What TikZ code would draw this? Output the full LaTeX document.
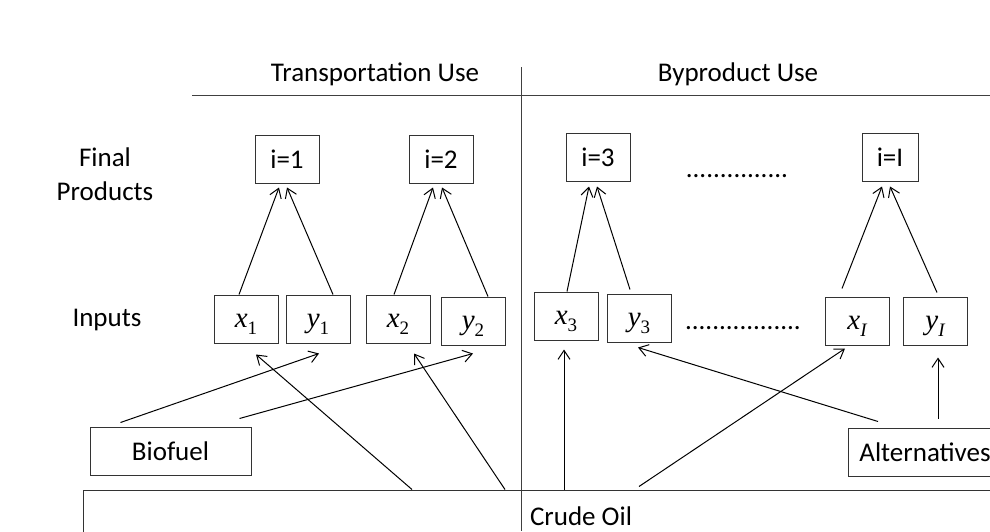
\documentclass[tikz,border=0pt]{standalone}
\usepackage{fontspec}
\setmainfont{Carlito}
\newfontfamily\varfont{Liberation Serif}
\newcommand\invar[2]{{\varfont\fontsize{29pt}{29pt}\selectfont\itshape #1}\raisebox{-7pt}{\varfont\fontsize{19pt}{19pt}\selectfont #2}}
\usetikzlibrary{arrows.meta}
\begin{document}
\begin{tikzpicture}[x=1pt,y=-1pt,
  every node/.style={font=\fontsize{27pt}{34pt}\selectfont},
  box/.style={draw=black!80,line width=1pt,inner sep=0pt,minimum width=64pt,minimum height=48pt},
  varbox/.style={box,text height=16pt,text depth=0pt},
  arr/.style={draw=black,line width=1pt,-{Straight Barb[length=9pt,width=12pt,line width=1pt]}},
  divider/.style={draw=black!75,line width=1pt}]
\useasboundingbox (0,0) rectangle (990,531);
% dividers
\draw[divider] (192,95) -- (990,95);
\draw[divider] (521,67) -- (521,531);
% headings
\node (tu) at (375,74) {Transportation Use};
\node (bu) at (738,74) {Byproduct Use};
\node[align=center] (fp) at (105,174) {Final\\Products};
\node (in) at (107,320) {Inputs};
% final products
\node[box] (p1) at (287,159) {i=1};
\node[box] (p2) at (441,159) {i=2};
\node[box] (p3) at (598,157) {i=3};
\node[box,minimum width=56pt] (pI) at (890,157) {i=I};
\node[anchor=base] (d1) at (737,177) {...............};
% inputs
\node[varbox] (x1) at (246,319) {\invar{x}{1}};
\node[varbox] (y1) at (318,319) {\invar{y}{1}};
\node[varbox] (x2) at (398,319) {\invar{x}{2}};
\node[varbox] (y2) at (473,321) {\invar{y}{2}};
\node[varbox] (x3) at (566,316) {\invar{x}{3}};
\node[varbox] (y3) at (639,318) {\invar{y}{3}};
\node[varbox] (xI) at (857,321) {\invar{x}{\itshape I}};
\node[varbox] (yI) at (935,321) {\invar{y}{\itshape I}};
\node[anchor=base] (d2) at (743,329) {.................};
% sources
\node[box,minimum width=161pt] (bio) at (170.5,451) {Biofuel};
\node[box,minimum width=154pt] (alt) at (925,452) {Alternatives};
\node[box,minimum width=996pt,minimum height=52pt] (crude) at (581,516) {Crude Oil};
% inputs to final products
\draw[arr] ([xshift=-7pt]x1.north) -- ([xshift=-8pt,yshift=-4pt]p1.south);
\draw[arr] ([xshift=15pt]y1.north) -- ([yshift=-4pt]p1.south);
\draw[arr] ([xshift=-4pt]x2.north) -- ([xshift=-8pt,yshift=-4pt]p2.south);
\draw[arr] ([xshift=15pt]y2.north) -- ([xshift=1pt,yshift=-4pt]p2.south);
\draw[arr] ([xshift=1pt]x3.north) -- ([xshift=-9pt,yshift=-5pt]p3.south);
\draw[arr] ([xshift=-9pt,yshift=4pt]y3.north) -- ([xshift=-1pt,yshift=-5pt]p3.south);
\draw[arr] ([xshift=-15pt,yshift=8pt]xI.north) -- ([xshift=-8pt,yshift=-5pt]pI.south);
\draw[arr] ([xshift=2pt,yshift=4pt]yI.north) -- ([yshift=-5pt]pI.south);
% biofuel
\draw[arr] ([xshift=-50pt,yshift=4pt]bio.north) -- ([xshift=1pt,yshift=-10pt]y1.south);
\draw[arr] ([xshift=69pt,yshift=8pt]bio.north) -- ([yshift=-8pt]y2.south);
% crude oil
\draw[arr] ([xshift=-169pt]crude.north) -- ([xshift=10pt,yshift=-11pt]x1.south);
\draw[arr] ([xshift=-76pt]crude.north) -- ([xshift=16pt,yshift=-10pt]x2.south);
\draw[arr] ([xshift=-17pt]crude.north) -- ([xshift=-2pt,yshift=-9pt]x3.south);
\draw[arr] ([xshift=58pt,yshift=3pt]crude.north) -- ([xshift=-12pt,yshift=-3pt]xI.south);
% alternatives
\draw[arr] ([xshift=-47pt,yshift=6pt]alt.north) -- ([xshift=-1pt,yshift=-5pt]y3.south);
\draw[arr] ([xshift=13pt,yshift=9pt]alt.north) -- ([xshift=3pt,yshift=-12pt]yI.south);
\end{tikzpicture}
\end{document}
